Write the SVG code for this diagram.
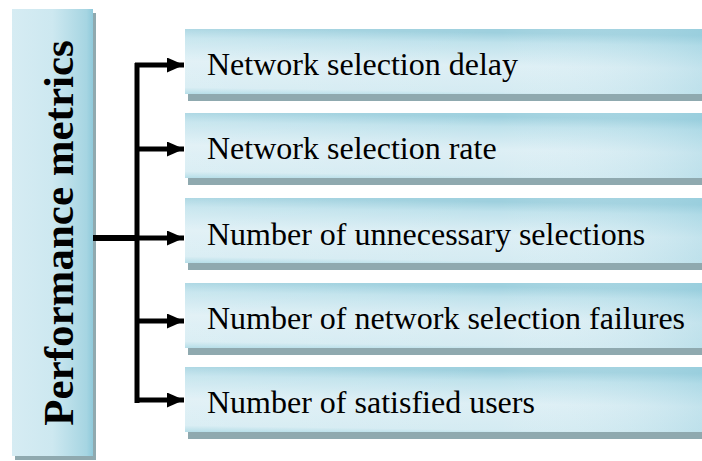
<svg xmlns="http://www.w3.org/2000/svg" width="702" height="461" viewBox="0 0 702 461">
  <defs>
    <linearGradient id="gRight" x1="0" y1="1" x2="0.12" y2="0">
      <stop offset="0" stop-color="#A9D8E4"/>
      <stop offset="0.1" stop-color="#D4EBF2"/>
      <stop offset="0.5" stop-color="#DDEFF5"/>
      <stop offset="0.85" stop-color="#BFE2EC"/>
      <stop offset="1" stop-color="#9ED0DE"/>
    </linearGradient>
    <linearGradient id="gRightH" x1="0" y1="0" x2="1" y2="0">
      <stop offset="0" stop-color="#FFFFFF" stop-opacity="0.15"/>
      <stop offset="0.6" stop-color="#FFFFFF" stop-opacity="0"/>
      <stop offset="1" stop-color="#8FCBDC" stop-opacity="0.35"/>
    </linearGradient>
    <linearGradient id="gLeft" x1="0" y1="0" x2="1" y2="0">
      <stop offset="0" stop-color="#D6ECF3"/>
      <stop offset="0.5" stop-color="#CDE8F0"/>
      <stop offset="0.92" stop-color="#A6D5E2"/>
      <stop offset="1" stop-color="#8FCADB"/>
    </linearGradient>
    <marker id="ah" viewBox="0 0 17 15" refX="17" refY="7.5" markerWidth="17" markerHeight="15" markerUnits="userSpaceOnUse" orient="auto">
      <path d="M0,0 L17,7.5 L0,15 Z" fill="#000"/>
    </marker>
  </defs>
  <style>
    .shadow { fill: #8FA9AF; }
    .rbox { fill: url(#gRight); }
    .rover { fill: url(#gRightH); }
    .lbl { font-family: "Liberation Serif", "Times New Roman", serif; font-size: 32px; fill: #000; }
    .title { font-family: "Liberation Serif", "Times New Roman", serif; font-size: 43px; font-weight: bold; fill: #000; }
    .wire { stroke: #000; fill: none; }
  </style>
  <rect width="702" height="461" fill="#FFFFFF"/>

  <g id="root">
    <rect class="shadow" x="15" y="13" width="81" height="447"/>
    <rect x="12" y="9" width="81" height="447" fill="url(#gLeft)"/>
    <text class="title" transform="translate(73,233) rotate(-90)" text-anchor="middle">Performance metrics</text>
  </g>

  <g id="n1">
    <rect class="shadow" x="188" y="36" width="520" height="65"/>
    <rect class="rbox" x="185" y="29" width="520" height="65"/>
    <rect class="rover" x="185" y="29" width="520" height="65"/>
    <text class="lbl" x="207" y="75">Network selection delay</text>
  </g>
  <g id="n2">
    <rect class="shadow" x="188" y="120" width="520" height="65"/>
    <rect class="rbox" x="185" y="113" width="520" height="65"/>
    <rect class="rover" x="185" y="113" width="520" height="65"/>
    <text class="lbl" x="207" y="159">Network selection rate</text>
  </g>
  <g id="n3">
    <rect class="shadow" x="188" y="205" width="520" height="65"/>
    <rect class="rbox" x="185" y="198" width="520" height="65"/>
    <rect class="rover" x="185" y="198" width="520" height="65"/>
    <text class="lbl" x="207" y="245">Number of unnecessary selections</text>
  </g>
  <g id="n4">
    <rect class="shadow" x="188" y="290" width="520" height="65"/>
    <rect class="rbox" x="185" y="283" width="520" height="65"/>
    <rect class="rover" x="185" y="283" width="520" height="65"/>
    <text class="lbl" x="207" y="329">Number of network selection failures</text>
  </g>
  <g id="n5">
    <rect class="shadow" x="188" y="374" width="520" height="65"/>
    <rect class="rbox" x="185" y="367" width="520" height="65"/>
    <rect class="rover" x="185" y="367" width="520" height="65"/>
    <text class="lbl" x="207" y="413">Number of satisfied users</text>
  </g>

  <g id="connectors">
    <line class="wire" x1="93" y1="238" x2="137" y2="238" stroke-width="6"/>
    <line class="wire" x1="137" y1="63" x2="137" y2="403" stroke-width="5"/>
    <line class="wire" x1="135" y1="65" x2="184" y2="65" stroke-width="5" marker-end="url(#ah)"/>
    <line class="wire" x1="137" y1="149" x2="184" y2="149" stroke-width="5" marker-end="url(#ah)"/>
    <line class="wire" x1="137" y1="238" x2="184" y2="238" stroke-width="5" marker-end="url(#ah)"/>
    <line class="wire" x1="137" y1="321" x2="184" y2="321" stroke-width="5" marker-end="url(#ah)"/>
    <line class="wire" x1="135" y1="400" x2="184" y2="400" stroke-width="5" marker-end="url(#ah)"/>
  </g>
</svg>
